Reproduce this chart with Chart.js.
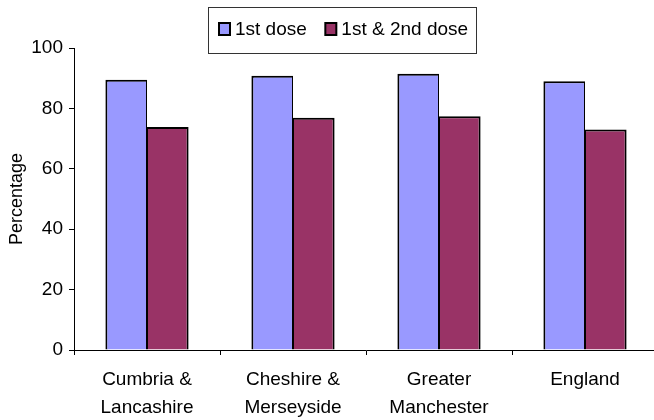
<!DOCTYPE html>
<html>
<head>
<meta charset="utf-8">
<script src="https://cdn.jsdelivr.net/npm/chart.js@4.4.1/dist/chart.umd.min.js"></script>
<style>
  html, body { margin: 0; padding: 0; background: #fff; overflow: hidden; }
  #wrap { width: 658px; height: 420px; }
</style>
</head>
<body>
<div id="wrap"><canvas id="c" width="658" height="420"></canvas></div>
<script>
// Vaccination uptake by area
const regions = [['Cumbria &', 'Lancashire'], ['Cheshire &', 'Merseyside'], ['Greater', 'Manchester'], ['England']];
const firstDose = [89.5, 90.8, 91.5, 89.0];
const bothDoses = [73.8, 76.9, 77.4, 73.0];
const seriesNames = ['1st dose', '1st & 2nd dose'];
const seriesColors = ['#9999FF', '#993366'];
const yMin = 0, yMax = 100, yStep = 20;

const FONT = '"Liberation Sans", Arial, sans-serif';

// Boxed legend drawn near the top centre of the chart
const boxLegend = {
  id: 'boxLegend',
  afterDraw(chart) {
    const ctx = chart.ctx;
    ctx.save();
    ctx.fillStyle = '#fff';
    ctx.fillRect(208, 7, 269, 47);
    ctx.strokeStyle = '#333';
    ctx.lineWidth = 1;
    ctx.strokeRect(208.5, 7.5, 268, 46);
    ctx.font = '19px ' + FONT;
    ctx.textBaseline = 'alphabetic';
    ctx.textAlign = 'left';
    let x = 218;
    chart.data.datasets.forEach(ds => {
      ctx.fillStyle = ds.backgroundColor;
      ctx.fillRect(x + 1, 23, 11, 12);
      ctx.lineWidth = 2;
      ctx.strokeStyle = '#000';
      ctx.strokeRect(x + 1, 23, 11, 12);
      ctx.fillStyle = '#000';
      ctx.fillText(ds.label, x + 17, 35);
      x += 17 + ctx.measureText(ds.label).width + 17.5;
    });
    ctx.restore();
  }
};

const barStyle = {
  borderColor: '#000',
  borderSkipped: 'start',
  categoryPercentage: 0.57,
  barPercentage: 1.0
};

new Chart(document.getElementById('c'), {
  type: 'bar',
  data: {
    labels: regions,
    datasets: [
      Object.assign({
        label: seriesNames[0], data: firstDose, backgroundColor: seriesColors[0],
        borderWidth: { top: 2, left: 2, right: 1, bottom: 0 }
      }, barStyle),
      Object.assign({
        label: seriesNames[1], data: bothDoses, backgroundColor: seriesColors[1],
        borderWidth: { top: 2, left: 1, right: 2, bottom: 0 }
      }, barStyle)
    ]
  },
  options: {
    responsive: false,
    animation: false,
    devicePixelRatio: 1,
    layout: { padding: { top: 48, left: 0, right: 0, bottom: 0 } },
    plugins: {
      legend: { display: false },
      tooltip: { enabled: false }
    },
    scales: {
      x: {
        grid: {
          display: true,
          offset: true,
          drawOnChartArea: false,
          drawTicks: true,
          tickLength: 5,
          color: '#000',
          lineWidth: 1
        },
        border: { display: true, color: '#000', width: 1 },
        ticks: {
          color: '#000',
          font: { family: FONT, size: 19, lineHeight: 1.45 },
          padding: 11,
          maxRotation: 0,
          autoSkip: false
        },
        afterFit(scale) { scale.height = 70; }
      },
      y: {
        min: yMin,
        max: yMax,
        grid: {
          display: true,
          drawOnChartArea: false,
          drawTicks: true,
          tickLength: 5,
          color: '#000',
          lineWidth: 1
        },
        border: { display: true, color: '#000', width: 1 },
        ticks: {
          stepSize: yStep,
          color: '#000',
          font: { family: FONT, size: 19 },
          padding: 6
        },
        title: {
          display: true,
          text: 'Percentage',
          color: '#000',
          font: { family: FONT, size: 18 },
          padding: { top: 6, bottom: 0 }
        },
        afterFit(scale) { scale.width = 74; }
      }
    }
  },
  plugins: [boxLegend]
});
</script>
</body>
</html>
